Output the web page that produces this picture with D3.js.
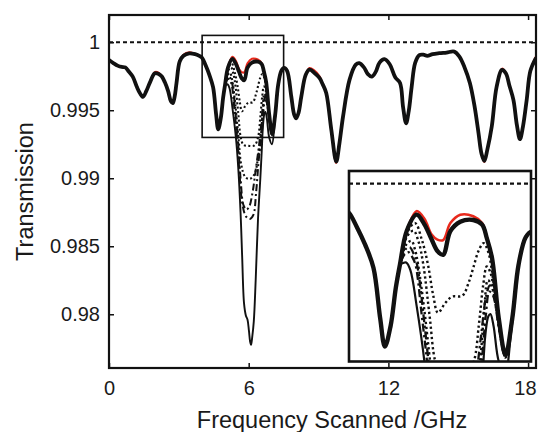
<!DOCTYPE html>
<html>
<head>
<meta charset="utf-8">
<script src="https://cdn.jsdelivr.net/npm/d3@7"></script>
<style>
  html, body { margin: 0; padding: 0; background: #fff; }
  svg { display: block; font-family: "Liberation Sans", Arial, Helvetica, sans-serif; }
</style>
</head>
<body>
<script>
// ---------------- DATA ----------------
const xTicks = [0, 6, 12, 18];
const yTicks = [0.98, 0.985, 0.99, 0.995, 1];
const xLabel = "Frequency Scanned /GHz";
const yLabel = "Transmission";

// frequency grid (GHz) for the full-range curves
const baseFreq = [0.00,0.20,0.39,0.55,0.70,0.85,1.02,1.20,1.33,1.46,1.60,1.76,1.97,2.15,2.27,2.40,2.54,2.66,2.74,2.82,2.90,3.04,3.20,3.45,3.70,3.90,4.00,4.15,4.31,4.47,4.60,4.69,4.80,4.90,4.98,5.11,5.30,5.45,5.59,5.70,5.81,5.95,6.14,6.39,6.56,6.65,6.75,6.88,7.01,7.14,7.26,7.40,7.52,7.65,7.83,7.95,8.04,8.14,8.26,8.45,8.61,8.80,9.04,9.18,9.33,9.55,9.76,9.90,10.05,10.33,10.60,10.75,10.95,11.12,11.29,11.45,11.62,11.83,12.05,12.30,12.50,12.63,12.76,12.88,13.00,13.15,13.33,13.50,13.67,13.90,14.19,14.50,14.83,15.05,15.26,15.50,15.70,15.87,16.00,16.12,16.25,16.44,16.65,16.88,17.05,17.20,17.37,17.52,17.65,17.78,17.94,18.10,18.34];
// black (thick) transmission
const baseT = [0.99870,0.99845,0.99826,0.99818,0.99815,0.99785,0.99747,0.99670,0.99625,0.99598,0.99640,0.99705,0.99772,0.99765,0.99748,0.99705,0.99640,0.99565,0.99552,0.99600,0.99700,0.99860,0.99900,0.99918,0.99912,0.99898,0.99885,0.99830,0.99760,0.99669,0.99470,0.99359,0.99440,0.99590,0.99682,0.99814,0.99878,0.99840,0.99780,0.99735,0.99720,0.99813,0.99850,0.99857,0.99839,0.99786,0.99708,0.99470,0.99326,0.99470,0.99680,0.99790,0.99812,0.99790,0.99600,0.99470,0.99441,0.99480,0.99600,0.99760,0.99798,0.99778,0.99737,0.99690,0.99627,0.99355,0.99122,0.99260,0.99451,0.99723,0.99835,0.99846,0.99815,0.99765,0.99747,0.99780,0.99850,0.99875,0.99840,0.99740,0.99700,0.99524,0.99404,0.99500,0.99673,0.99848,0.99905,0.99908,0.99899,0.99912,0.99919,0.99924,0.99931,0.99894,0.99820,0.99700,0.99530,0.99333,0.99180,0.99127,0.99210,0.99380,0.99673,0.99796,0.99770,0.99680,0.99576,0.99390,0.99287,0.99380,0.99576,0.99790,0.99885];
// red transmission
const redT = [0.99870,0.99845,0.99826,0.99818,0.99815,0.99785,0.99747,0.99670,0.99625,0.99598,0.99640,0.99705,0.99780,0.99772,0.99748,0.99705,0.99640,0.99565,0.99552,0.99600,0.99700,0.99860,0.99908,0.99925,0.99912,0.99898,0.99885,0.99830,0.99760,0.99669,0.99470,0.99359,0.99440,0.99590,0.99682,0.99814,0.99892,0.99862,0.99800,0.99780,0.99778,0.99845,0.99878,0.99872,0.99845,0.99790,0.99708,0.99470,0.99326,0.99470,0.99680,0.99790,0.99812,0.99790,0.99600,0.99470,0.99441,0.99480,0.99600,0.99760,0.99810,0.99795,0.99750,0.99690,0.99627,0.99355,0.99112,0.99260,0.99451,0.99723,0.99835,0.99846,0.99815,0.99765,0.99747,0.99780,0.99850,0.99875,0.99840,0.99740,0.99700,0.99524,0.99404,0.99500,0.99673,0.99848,0.99905,0.99908,0.99899,0.99912,0.99919,0.99924,0.99931,0.99894,0.99820,0.99700,0.99530,0.99333,0.99180,0.99120,0.99210,0.99380,0.99673,0.99805,0.99770,0.99680,0.99576,0.99390,0.99287,0.99380,0.99576,0.99790,0.99895];

// absorbing states: only where they depart from the black curve (GHz, T)
const dotted1 = [[5.00,0.99700],[5.11,0.99805],[5.27,0.99845],[5.40,0.99780],[5.52,0.99680],[5.62,0.99560],[5.71,0.99492],[5.85,0.99530],[5.98,0.99555],[6.18,0.99559],[6.30,0.99610],[6.39,0.99669],[6.50,0.99740],[6.59,0.99766],[6.68,0.99730],[6.78,0.99610],[6.90,0.99420],[7.01,0.99326],[7.14,0.99470]];
const dotted2 = [[5.00,0.99700],[5.11,0.99790],[5.24,0.99815],[5.34,0.99770],[5.43,0.99680],[5.55,0.99480],[5.66,0.99300],[5.78,0.99245],[6.00,0.99238],[6.25,0.99242],[6.40,0.99300],[6.50,0.99450],[6.58,0.99600],[6.65,0.99674],[6.72,0.99650],[6.82,0.99530],[6.92,0.99390],[7.01,0.99320],[7.14,0.99470]];
const dotted3 = [[5.00,0.99698],[5.10,0.99760],[5.20,0.99775],[5.27,0.99740],[5.33,0.99680],[5.45,0.99500],[5.56,0.99300],[5.68,0.99100],[5.85,0.99010],[6.05,0.98995],[6.25,0.99030],[6.40,0.99150],[6.52,0.99300],[6.60,0.99500],[6.67,0.99620],[6.74,0.99600],[6.84,0.99500],[6.93,0.99380],[7.01,0.99318],[7.14,0.99470]];
const dashDot1 = [[5.00,0.99697],[5.10,0.99745],[5.17,0.99750],[5.25,0.99720],[5.31,0.99680],[5.45,0.99450],[5.55,0.99250],[5.65,0.99000],[5.78,0.98800],[5.90,0.98770],[6.02,0.98790],[6.15,0.98880],[6.30,0.99060],[6.45,0.99250],[6.55,0.99420],[6.64,0.99560],[6.71,0.99600],[6.79,0.99570],[6.90,0.99430],[7.01,0.99318],[7.14,0.99470]];
const dashDot2 = [[5.00,0.99695],[5.08,0.99725],[5.15,0.99730],[5.22,0.99710],[5.28,0.99680],[5.40,0.99480],[5.50,0.99300],[5.60,0.99050],[5.72,0.98820],[5.88,0.98720],[6.05,0.98700],[6.20,0.98730],[6.32,0.98900],[6.44,0.99150],[6.55,0.99300],[6.63,0.99480],[6.70,0.99575],[6.77,0.99560],[6.87,0.99450],[7.01,0.99315],[7.14,0.99470]];
const solidDeep = [[4.98,0.99682],[5.04,0.99688],[5.10,0.99690],[5.18,0.99660],[5.30,0.99520],[5.45,0.99300],[5.55,0.99080],[5.65,0.98750],[5.72,0.98420],[5.80,0.98080],[5.88,0.97990],[5.95,0.97960],[6.01,0.97880],[6.06,0.97800],[6.10,0.97775],[6.15,0.97830],[6.22,0.97950],[6.30,0.98250],[6.40,0.98700],[6.50,0.99000],[6.56,0.99200],[6.62,0.99400],[6.68,0.99478],[6.72,0.99487],[6.78,0.99440],[6.88,0.99300],[7.00,0.99250],[7.12,0.99420],[7.26,0.99680]];

const refLevel = 1;            // dashed reference line
const zoomX = [4.0, 7.5];      // zoomed window (GHz)
const zoomY = [0.993, 1.0005]; // zoomed window (T)

// ---------------- DRAWING ----------------
const W = 539, H = 432;
const svg = d3.select("body").append("svg").attr("width", W).attr("height", H);

const L = 109, R = 536, T = 15, B = 368;
const x = d3.scaleLinear().domain([0, 18.34]).range([L, R]);
const y = d3.scaleLinear().domain([0.97605, 1.002]).range([B, T]);

const defs = svg.append("defs");
defs.append("clipPath").attr("id", "clipMain").append("rect")
  .attr("x", L).attr("y", T).attr("width", R - L).attr("height", B - T);

const base = baseFreq.map((f, i) => [f, baseT[i]]);
const red = baseFreq.map((f, i) => [f, redT[i]]);

const variants = [
  {d: dotted1, dash: "2,2.4", w: 2.1},
  {d: dotted2, dash: "2,2.4", w: 2.1},
  {d: dotted3, dash: "2,2.4", w: 2.1},
  {d: dashDot1, dash: "7,3,2,3", w: 2},
  {d: dashDot2, dash: "7,3,2,3", w: 2},
  {d: solidDeep, dash: null, w: 1.9}
];

function drawCurves(g, xs, ys, scale) {
  const line = d3.line().x(d => xs(d[0])).y(d => ys(d[1])).curve(d3.curveCatmullRom.alpha(0.5));
  g.append("line").attr("x1", xs.range()[0]).attr("x2", xs.range()[1])
    .attr("y1", ys(refLevel)).attr("y2", ys(refLevel))
    .attr("stroke", "#111").attr("stroke-width", 2 * scale).attr("stroke-dasharray", "4,3");
  g.append("path").datum(red).attr("d", line).attr("fill", "none")
    .attr("stroke", "#e8291c").attr("stroke-width", 2.2 * scale).attr("stroke-linejoin", "round");
  variants.forEach(v => {
    g.append("path").datum(v.d).attr("d", line).attr("fill", "none")
      .attr("stroke", "#111").attr("stroke-width", v.w * scale)
      .attr("stroke-dasharray", v.dash ? v.dash.split(",").map(n => +n * scale).join(",") : null);
  });
  g.append("path").datum(base).attr("d", line).attr("fill", "none")
    .attr("stroke", "#111").attr("stroke-width", 3.8 * scale).attr("stroke-linejoin", "round");
}

const gMain = svg.append("g").attr("clip-path", "url(#clipMain)");
drawCurves(gMain, x, y, 1);

// axes (ticks inward)
const gx = svg.append("g").attr("transform", `translate(0,${B})`)
  .call(d3.axisBottom(x).tickValues(xTicks).tickSize(-5).tickPadding(13).tickFormat(d3.format("d")));
const gxt = svg.append("g").attr("transform", `translate(0,${T})`)
  .call(d3.axisTop(x).tickValues(xTicks).tickSize(-5).tickFormat(""));
const gy = svg.append("g").attr("transform", `translate(${L},0)`)
  .call(d3.axisLeft(y).tickValues(yTicks).tickSize(-5).tickPadding(9).tickFormat(d => String(+d.toFixed(3))));
const gyr = svg.append("g").attr("transform", `translate(${R},0)`)
  .call(d3.axisRight(y).tickValues(yTicks).tickSize(-5).tickFormat(""));
[gx, gxt, gy, gyr].forEach(g => {
  g.attr("font-size", 20).attr("font-family", "Liberation Sans, Arial, sans-serif");
  g.select(".domain").remove();
  g.selectAll(".tick line").attr("stroke", "#111").attr("stroke-width", 1.5);
  g.selectAll("text").attr("fill", "#1a1a1a");
});
gx.selectAll(".tick text").filter(d => d === 18).attr("text-anchor", "end").attr("x", R - x(18));

svg.append("rect").attr("x", L).attr("y", T).attr("width", R - L).attr("height", B - T)
  .attr("fill", "none").attr("stroke", "#111").attr("stroke-width", 2.2);

// zoom window rectangle
svg.append("rect").attr("x", x(zoomX[0])).attr("y", y(zoomY[1]))
  .attr("width", x(zoomX[1]) - x(zoomX[0])).attr("height", y(zoomY[0]) - y(zoomY[1]))
  .attr("fill", "none").attr("stroke", "#111").attr("stroke-width", 1.6);

// inset
const IL = 349, IR = 531, IT = 171, IB = 361.5;
const xi = d3.scaleLinear().domain(zoomX).range([IL, IR]);
const yi = d3.scaleLinear().domain(zoomY).range([IB, IT]);
defs.append("clipPath").attr("id", "clipInset").append("rect")
  .attr("x", IL).attr("y", IT).attr("width", IR - IL).attr("height", IB - IT);
svg.append("rect").attr("x", IL).attr("y", IT).attr("width", IR - IL).attr("height", IB - IT).attr("fill", "#fff");
const gIn = svg.append("g").attr("clip-path", "url(#clipInset)");
drawCurves(gIn, xi, yi, 1.15);
svg.append("rect").attr("x", IL).attr("y", IT).attr("width", IR - IL).attr("height", IB - IT)
  .attr("fill", "none").attr("stroke", "#111").attr("stroke-width", 2.6);

// labels
svg.append("text").attr("x", 332).attr("y", 428).attr("text-anchor", "middle")
  .attr("font-size", 23.5).attr("fill", "#1a1a1a").text(xLabel);
svg.append("text").attr("transform", `translate(33,191.5) rotate(-90)`).attr("text-anchor", "middle")
  .attr("font-size", 23.5).attr("fill", "#1a1a1a").text(yLabel);
</script>
</body>
</html>
